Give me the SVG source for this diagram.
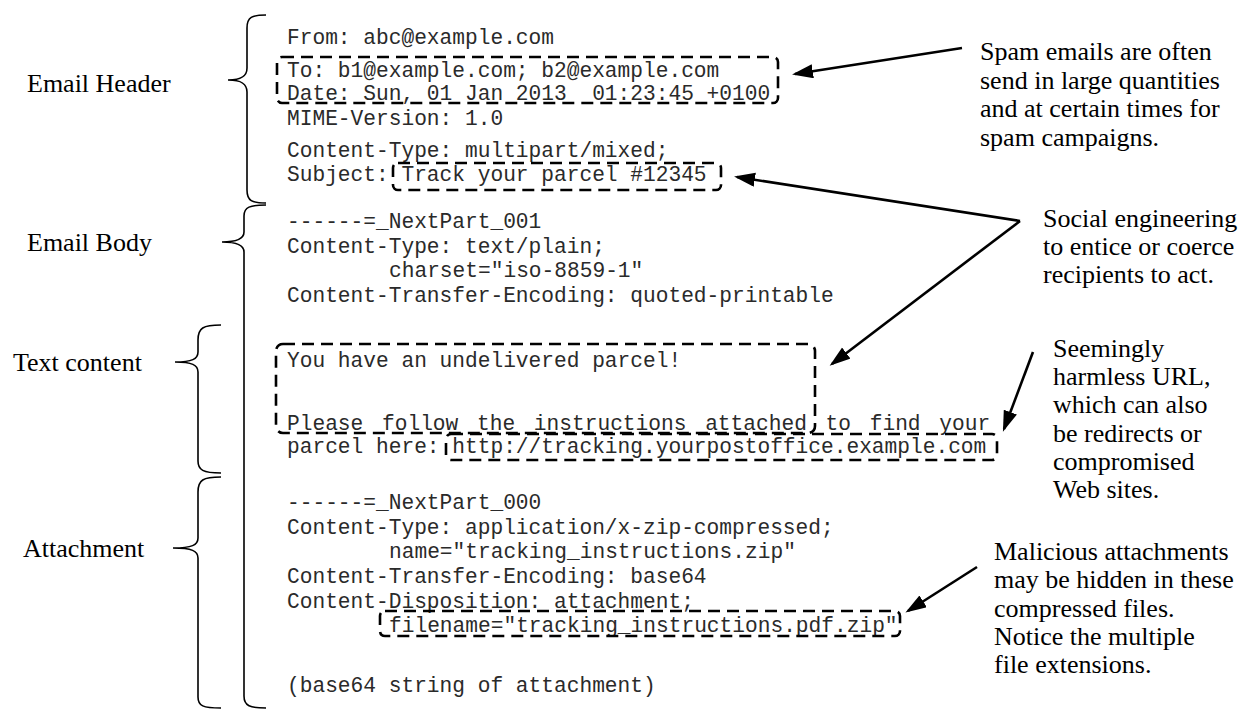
<svg xmlns="http://www.w3.org/2000/svg" width="1242" height="711" viewBox="0 0 1242 711">
  <style>
    .mono { font-family: "Liberation Mono", "Courier New", monospace; font-size: 21.2px; fill: #2a2a2a; white-space: pre; }
    .serif { font-family: "Liberation Serif", "Times New Roman", serif; font-size: 26px; fill: #000; }
    .brace { fill: none; stroke: #000; stroke-width: 1.6; }
    .box { fill: none; stroke: #000; stroke-width: 2.6; stroke-dasharray: 12 7; }
    .arrow { fill: none; stroke: #000; stroke-width: 2.6; marker-end: url(#head); }
  </style>
  <defs>
    <marker id="head" markerUnits="userSpaceOnUse" markerWidth="24" markerHeight="16" refX="18" refY="7" orient="auto">
      <path d="M0,0 L21,7 L0,14 z" fill="#000"/>
    </marker>
  </defs>
  <rect width="1242" height="711" fill="#fff"/>

  <!-- section braces and their labels -->
  <g id="email-header">
    <path class="brace" d="M266,15 C252,15 247,17 247,28 L247,68 C247,76 242,80 228,80 C242,80 247,84 247,92 L247,190 C247,201 252,203 266,203"/>
    <text class="serif" x="27" y="92">Email Header</text>
  </g>
  <g id="email-body">
    <path class="brace" d="M266,205 C250,205 244,207 244,216 L244,232 C244,238 238,242 222,242 C238,242 244,246 244,252 L244,696 C244,706 250,708 266,708"/>
    <text class="serif" x="27" y="251">Email Body</text>
  </g>
  <g id="text-content">
    <path class="brace" d="M221,325 C203,325 198,328 198,340 L198,352 C198,359 192,362 175,362 C192,362 198,365 198,372 L198,461 C198,470 203,473 221,473"/>
    <text class="serif" x="13" y="371">Text content</text>
  </g>
  <g id="attachment">
    <path class="brace" d="M221,477 C203,477 198,480 198,492 L198,538 C198,545 192,548 173,548 C192,548 198,551 198,558 L198,697 C198,706 203,708 221,708"/>
    <text class="serif" x="23" y="557">Attachment</text>
  </g>

  <!-- raw message source -->
  <g id="message-source">
    <text class="mono" x="287" y="44">From: abc@example.com</text>
    <text class="mono" x="287" y="77">To: b1@example.com; b2@example.com</text>
    <text class="mono" x="287" y="100" xml:space="preserve">Date: Sun, 01 Jan 2013  01:23:45 +0100</text>
    <text class="mono" x="287" y="125">MIME-Version: 1.0</text>
    <text class="mono" x="287" y="157">Content-Type: multipart/mixed;</text>
    <text class="mono" x="287" y="181">Subject: Track your parcel #12345</text>

    <text class="mono" x="287" y="228">------=_NextPart_001</text>
    <text class="mono" x="287" y="253">Content-Type: text/plain;</text>
    <text class="mono" x="389" y="277">charset="iso-8859-1"</text>
    <text class="mono" x="287" y="302">Content-Transfer-Encoding: quoted-printable</text>

    <text class="mono" x="287" y="367">You have an undelivered parcel!</text>
    <text class="mono" x="287" y="430" word-spacing="6">Please follow the instructions attached to find your</text>
    <text class="mono" x="287" y="453">parcel here: http://tracking.yourpostoffice.example.com</text>

    <text class="mono" x="287" y="509">------=_NextPart_000</text>
    <text class="mono" x="287" y="534">Content-Type: application/x-zip-compressed;</text>
    <text class="mono" x="389" y="558">name="tracking_instructions.zip"</text>
    <text class="mono" x="287" y="583">Content-Transfer-Encoding: base64</text>
    <text class="mono" x="287" y="608">Content-Disposition: attachment;</text>
    <text class="mono" x="389" y="632">filename="tracking_instructions.pdf.zip"</text>

    <text class="mono" x="287" y="692">(base64 string of attachment)</text>
  </g>

  <!-- dashed highlight boxes -->
  <g id="highlights">
    <rect id="hl-recipients" class="box" x="277" y="57" width="501" height="46" rx="5"/>
    <rect id="hl-subject" class="box" x="393" y="163" width="328" height="27" rx="5"/>
    <rect id="hl-text" class="box" x="276" y="344" width="539" height="89" rx="7"/>
    <rect id="hl-url" class="box" x="446" y="434" width="551" height="26" rx="5"/>
    <rect id="hl-filename" class="box" x="380" y="611" width="520" height="25" rx="5"/>
  </g>

  <!-- annotations -->
  <g id="note-spam">
    <text class="serif" x="980" y="60">Spam emails are often</text>
    <text class="serif" x="980" y="89">send in large quantities</text>
    <text class="serif" x="980" y="117">and at certain times for</text>
    <text class="serif" x="980" y="146">spam campaigns.</text>
  </g>
  <g id="note-social">
    <text class="serif" x="1043" y="227">Social engineering</text>
    <text class="serif" x="1043" y="255">to entice or coerce</text>
    <text class="serif" x="1043" y="283">recipients to act.</text>
  </g>
  <g id="note-url">
    <text class="serif" x="1053" y="357">Seemingly</text>
    <text class="serif" x="1053" y="385">harmless URL,</text>
    <text class="serif" x="1053" y="413">which can also</text>
    <text class="serif" x="1053" y="442">be redirects or</text>
    <text class="serif" x="1053" y="470">compromised</text>
    <text class="serif" x="1053" y="498">Web sites.</text>
  </g>
  <g id="note-attachment">
    <text class="serif" x="994" y="560">Malicious attachments</text>
    <text class="serif" x="994" y="588">may be hidden in these</text>
    <text class="serif" x="994" y="617">compressed files.</text>
    <text class="serif" x="994" y="645">Notice the multiple</text>
    <text class="serif" x="994" y="673">file extensions.</text>
  </g>

  <!-- connectors from notes to highlighted fields -->
  <g id="connectors">
    <line class="arrow" x1="962" y1="48" x2="795" y2="74"/>
    <line class="arrow" x1="1020" y1="221" x2="737" y2="177"/>
    <line class="arrow" x1="1020" y1="221" x2="832" y2="364"/>
    <line class="arrow" x1="1033" y1="352" x2="1004" y2="429"/>
    <line class="arrow" x1="977" y1="567" x2="908" y2="611"/>
  </g>
</svg>
